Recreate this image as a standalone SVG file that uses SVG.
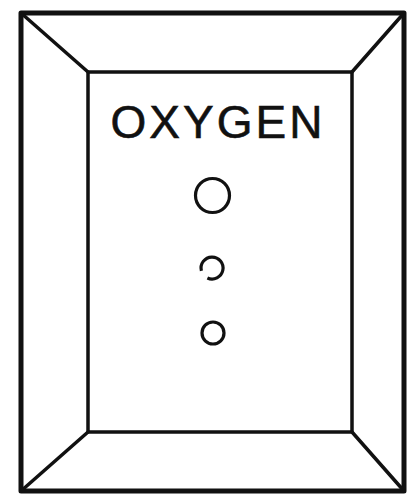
<svg xmlns="http://www.w3.org/2000/svg" width="407" height="498" viewBox="0 0 407 498">
<style>
.ln{fill:none;stroke:#111;stroke-linecap:round;stroke-linejoin:round}
.outer{stroke-width:5}
.thin{stroke-width:3.5}
.c{fill:none;stroke:#111;stroke-width:3.2}
.t{font-family:"Liberation Sans",Arial,sans-serif;font-size:46px;fill:#111;stroke:#111;stroke-width:0.6;letter-spacing:3px}
</style>
<rect width="407" height="498" fill="#fff"/>
<g id="panel">
<rect class="ln outer" x="21" y="13" width="383" height="478"/>
<rect class="ln thin" x="88" y="72" width="264" height="360"/>
</g>
<g id="connectors">
<line class="ln thin" x1="21" y1="13" x2="88" y2="72"/>
<line class="ln thin" x1="404" y1="13" x2="352" y2="72"/>
<line class="ln thin" x1="21" y1="491" x2="88" y2="432"/>
<line class="ln thin" x1="404" y1="491" x2="352" y2="432"/>
</g>
<g id="label">
<text class="t" x="218" y="138" text-anchor="middle">OXYGEN</text>
</g>
<g id="light1"><circle class="c" cx="212.5" cy="195.5" r="17"/></g>
<g id="light2"><path class="c" d="M201.4 270.8 A11 11 0 1 1 207.4 278"/></g>
<g id="light3"><circle class="c" cx="213" cy="333" r="11"/></g>
</svg>
